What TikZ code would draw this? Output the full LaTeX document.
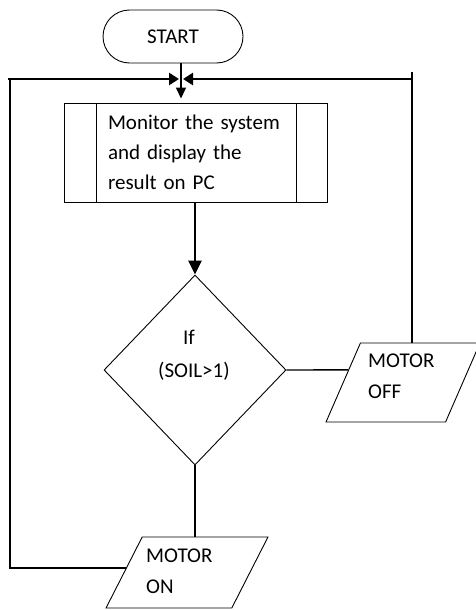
\documentclass[tikz,border=0pt]{standalone}
\usepackage{fontspec}
\setmainfont{Carlito}
\usetikzlibrary{shapes.geometric,shapes.misc,arrows.meta,calc}
\begin{document}
\begin{tikzpicture}[x=1pt,y=-1pt,
  txt/.style={font=\fontsize{21}{30}\selectfont},
  lbl/.style={txt, inner sep=0pt, anchor=base west},
  outline/.style={draw, line width=0.9pt},
  io/.style={outline, trapezium, trapezium stretches=true, trapezium left angle=68, trapezium right angle=112, inner sep=2pt},
  flow/.style={line width=1.4pt},
  bus/.style={line width=2.5pt},
  head/.style={-{Triangle[length=10pt,width=12pt]}}
]
\useasboundingbox (0,0) rectangle (476,610);

\node[outline, rounded rectangle, minimum width=140pt, minimum height=53pt, inner sep=0pt, txt] (S) at (173,36.5) {START};

\node[outline, rectangle, minimum width=263pt, minimum height=99pt, text width=175pt, align=left, inner sep=0pt, txt] (P) at (195.5,152.5) {Monitor the system\\and display the\\result on PC};
\draw[outline] ([xshift=33pt]P.north west) -- ([xshift=33pt]P.south west);
\draw[outline] ([xshift=-31pt]P.north east) -- ([xshift=-31pt]P.south east);

\node[outline, diamond, minimum width=182pt, minimum height=190pt, inner sep=2pt] (D) at (195,370) {};
\node[lbl] (ift) at (183,344) {If};
\node[lbl] (soilt) at (158,377) {(SOIL>1)};

\node[io, minimum width=154pt, minimum height=79pt] (OFF) at (403,382.5) {};
\node[lbl] (offa) at (368,367) {MOTOR};
\node[lbl] (offb) at (368,398) {OFF};

\node[io, minimum width=162pt, minimum height=71pt] (ON) at (187,572.5) {};
\node[lbl] (ona) at (146,562) {MOTOR};
\node[lbl] (onb) at (146,593) {ON};

\coordinate (J) at (181,79);
\coordinate (L) at (10,79);
\coordinate (R) at (412,79);

% start to process
\draw[flow, -{Triangle[length=11pt,width=10pt]}] (J |- S.south) -- ([yshift=4pt]J |- P.north);
% bus arrows
\draw[bus, head] ([xshift=-2pt]L) -- ([xshift=-2pt]J);
\draw[bus, head] (R) -- ([xshift=2pt]J);
% loops
\draw[flow] ($(ON.bottom left corner)!0.563!(ON.top left corner)$) -| (L);
\draw[flow] (R |- OFF.north) -- ([yshift=7pt]R);
% process to decision
\draw[bus, -{Triangle[length=14pt,width=13pt]}] (P.south -| D.north) -- (D.north);
% decision branches
\draw[flow] (D.east) -- ($(OFF.bottom left corner)!0.658!(OFF.top left corner)$);
\draw[flow] (D.south) -- (D.south |- ON.north);
\end{tikzpicture}
\end{document}
